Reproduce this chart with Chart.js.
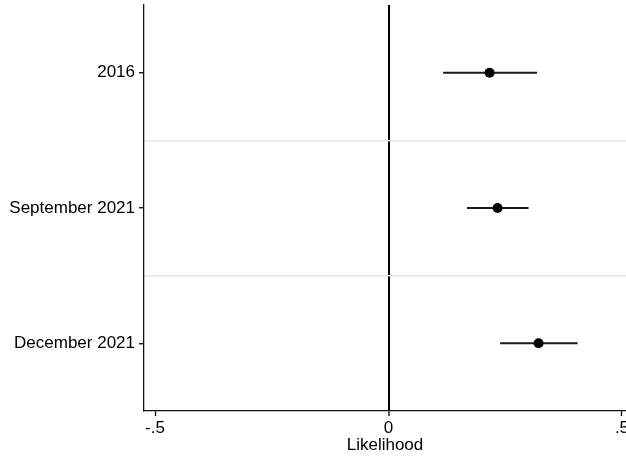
<!DOCTYPE html>
<html>
<head>
<meta charset="utf-8">
<title>Likelihood</title>
<script src="https://cdn.jsdelivr.net/npm/chart.js@4/dist/chart.umd.min.js"></script>
<style>
  html, body { margin: 0; padding: 0; background: #ffffff; }
  #wrap { width: 626px; height: 458px; }
</style>
</head>
<body>
<div id="wrap"><canvas id="c" width="626" height="458"></canvas></div>
<script>
// Survey waves, point estimates and 95% confidence bounds
const categories = ['2016', 'September 2021', 'December 2021'];
const estimates  = [0.2165, 0.2336, 0.3214];
const lowerCI    = [0.117, 0.168, 0.239];
const upperCI    = [0.318, 0.300, 0.405];
const xTickValues = [-0.5, 0, 0.5];
const xTickLabels = ['-.5', '0', '.5'];

const FONT = { family: '"Liberation Sans", Arial, Helvetica, sans-serif', size: 17 };

// one horizontal segment per wave for the interval
const ciSets = categories.map((name, i) => ({
  label: name + ' CI',
  data: [{ x: lowerCI[i], y: i + 1 }, { x: upperCI[i], y: i + 1 }],
  showLine: true,
  borderColor: '#1a1a1a',
  borderWidth: 2,
  pointRadius: 0,
  pointHoverRadius: 0,
  order: 2
}));

const pointSet = {
  label: 'Estimate',
  data: estimates.map((v, i) => ({ x: v, y: i + 1 })),
  pointRadius: 5,
  pointHoverRadius: 5,
  pointBackgroundColor: '#000000',
  pointBorderColor: '#000000',
  borderWidth: 0,
  showLine: false,
  order: 1
};

const isHalf = v => Math.abs(v - Math.round(v)) > 0.01;

new Chart(document.getElementById('c'), {
  type: 'scatter',
  data: { datasets: [...ciSets, pointSet] },
  options: {
    responsive: false,
    animation: false,
    events: [],
    layout: { autoPadding: false, padding: { top: 5, right: 0, left: 0, bottom: 0 } },
    plugins: { legend: { display: false }, tooltip: { enabled: false } },
    scales: {
      x: {
        type: 'linear',
        min: -0.5236,
        max: 0.5086,
        afterBuildTicks: s => { s.ticks = xTickValues.map(v => ({ value: v })); },
        afterFit: s => { s.height = 47; s.paddingLeft = 0; s.paddingRight = 0; },
        ticks: {
          color: '#000000',
          font: FONT,
          padding: 2,
          maxRotation: 0,
          autoSkip: false,
          callback: (v) => xTickLabels[xTickValues.indexOf(v)] ?? ''
        },
        grid: {
          color: ctx => (ctx.tick && ctx.tick.value === 0) ? '#000000' : 'rgba(0,0,0,0)',
          lineWidth: ctx => (ctx.tick && ctx.tick.value === 0) ? 2 : 1,
          tickColor: '#000000',
          tickLength: 5,
          tickWidth: 1.3
        },
        border: { display: true, color: '#111111', width: 1.3 },
        title: {
          display: true,
          text: 'Likelihood',
          color: '#000000',
          font: FONT,
          padding: { top: 0, bottom: 2 }
        }
      },
      y: {
        type: 'linear',
        min: 0.5,
        max: 3.5,
        reverse: true,
        afterBuildTicks: s => { s.ticks = [1, 1.5, 2, 2.5, 3].map(v => ({ value: v })); },
        afterFit: s => { s.width = 144; s.paddingTop = 0; s.paddingBottom = 0; },
        ticks: {
          color: '#000000',
          font: FONT,
          padding: 4,
          autoSkip: false,
          callback: v => isHalf(v) ? '' : categories[Math.round(v) - 1]
        },
        grid: {
          color: ctx => (ctx.tick && isHalf(ctx.tick.value)) ? '#e6e6e6' : 'rgba(0,0,0,0)',
          lineWidth: 1.5,
          tickColor: ctx => (ctx.tick && isHalf(ctx.tick.value)) ? 'rgba(0,0,0,0)' : '#000000',
          tickLength: 5,
          tickWidth: 1.3
        },
        border: { display: true, color: '#111111', width: 1.3 }
      }
    }
  }
});
</script>
</body>
</html>
